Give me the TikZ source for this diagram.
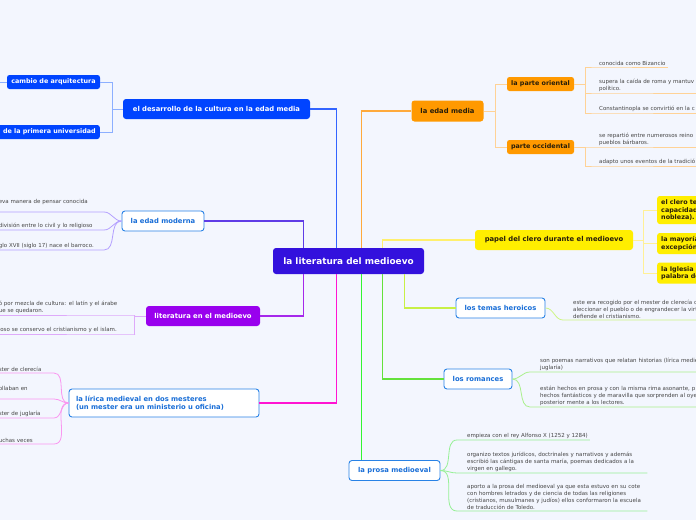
\documentclass[tikz,border=0pt]{standalone}
\usepackage{fontspec}
\setmainfont{DejaVu Sans}
\usetikzlibrary{positioning}

\definecolor{fondo}{RGB}{243,246,254}
\definecolor{centralc}{RGB}{51,17,221}
\definecolor{azul}{RGB}{0,68,255}
\definecolor{azulrama}{RGB}{50,100,255}
\definecolor{azulhoja}{RGB}{140,175,255}
\definecolor{moradorama}{RGB}{95,60,230}
\definecolor{moradohoja}{RGB}{180,160,255}
\definecolor{violeta}{RGB}{153,0,238}
\definecolor{violetarama}{RGB}{165,40,235}
\definecolor{violetahoja}{RGB}{222,170,250}
\definecolor{magrama}{RGB}{255,20,210}
\definecolor{maghoja}{RGB}{250,150,240}
\definecolor{naranja}{RGB}{255,153,0}
\definecolor{naranjarama}{RGB}{255,170,60}
\definecolor{naranjahoja}{RGB}{255,210,150}
\definecolor{amarillo}{RGB}{255,238,0}
\definecolor{amarillorama}{RGB}{255,240,110}
\definecolor{amarillohoja}{RGB}{255,240,150}
\definecolor{limarama}{RGB}{200,240,70}
\definecolor{limahoja}{RGB}{205,245,130}
\definecolor{verderama}{RGB}{100,225,60}
\definecolor{verdehoja}{RGB}{170,240,140}
\definecolor{prosarama}{RGB}{50,245,50}
\definecolor{prosahoja}{RGB}{150,240,150}
\definecolor{borde}{RGB}{40,130,230}
\definecolor{textoazul}{RGB}{25,110,215}
\definecolor{textohoja}{RGB}{70,70,70}
\definecolor{textooscuro}{RGB}{40,30,10}

\begin{document}
\begin{tikzpicture}[
  x=1pt, y=-1pt,
  every node/.style={font=\fontsize{6.8}{8.2}\selectfont\bfseries},
  tema/.style={rectangle, rounded corners=3pt, fill=#1, text=white,
               minimum height=20pt, inner sep=2pt},
  caja/.style={rectangle, rounded corners=3pt, draw=borde, fill=white, text=textoazul,
               line width=0.9pt, minimum height=20pt, inner sep=2pt},
  sub/.style={rectangle, rounded corners=2.5pt, fill=#1, minimum height=14pt,
              inner sep=1.5pt, font=\fontsize{6.4}{7.4}\selectfont\bfseries},
  hoja/.style={font=\fontsize{5.5}{6.8}\selectfont, text=textohoja, align=left,
               inner xsep=2pt, inner ysep=1.5pt},
  hojader/.style={hoja, anchor=south west},
  hojaizq/.style={hoja, anchor=south east, text width=#1},
  rama/.style={draw=#1, line width=1.4pt},
  lazo/.style={draw=#1, line width=0.8pt},
]

% ── Fondo y recorte ──────────────────────────────────────────────────
\useasboundingbox (0,0) rectangle (696,520);
\clip (0,0) rectangle (696,520);
\fill[fondo] (0,0) rectangle (696,520);

% ── Tema central ─────────────────────────────────────────────────────
\node[tema=centralc, minimum width=151pt, minimum height=26pt,
      font=\fontsize{8.9}{10}\selectfont\bfseries] (centro) at (348.5,261) {la literatura del medioevo};

% ── Ramas de la izquierda ────────────────────────────────────────────
\node[tema=azul, minimum width=187pt] (desarrollo) at (216.5,109) {el desarrollo de la cultura en la edad media};
\node[sub=azul, text=white, minimum width=93pt] (cambio) at (53.5,82) {cambio de arquitectura};
\node[sub=azul, text=white, text width=100pt, align=right, inner xsep=4pt, anchor=east]
  (universidad) at (100,132) {de la primera universidad};
\coordinate (cambiohijos) at (-10,82);

\node[caja, minimum width=82pt] (moderna) at (163,221) {la edad moderna};
\node[hojaizq=103pt] (mod1) at (104,212) {eva manera de pensar conocida\\~};
\node[hojaizq=103pt] (mod2) at (104,230) {división entre lo civil y lo religioso};
\node[hojaizq=103pt] (mod3) at (104,250) {glo XVII (siglo 17) nace el barroco.};

\node[tema=violeta, minimum width=114pt] (literatura) at (203,316) {literatura en el medioevo};
\node[hojaizq=134pt] (lit1) at (135,315) {ó por mezcla de cultura: el latín y el árabe\\ue se quedaron.};
\node[hojaizq=134pt] (lit2) at (135,334) {ioso se conservo el cristianismo y el islam.};

\node[caja, text width=176pt, align=left, inner xsep=7pt, minimum height=28pt] (lirica) at (164,403)
  {la lírica medieval en dos mesteres\\(un mester era un ministerio u oficina)};
\node[hojaizq=53pt] (lir1) at (54,373) {ster de clerecía};
\node[hojaizq=53pt] (lir2) at (54,399) {ollaban en\\~};
\node[hojaizq=53pt] (lir3) at (54,418) {ster de juglaría};
\node[hojaizq=53pt] (lir4) at (54,444) {uchas veces};

% ── Ramas de la derecha ──────────────────────────────────────────────
\node[tema=naranja, text=textooscuro, minimum width=72pt, minimum height=21pt] (media) at (447.5,111) {la edad media};
\node[sub=naranja, text=textooscuro, minimum width=67pt] (oriental) at (540.5,84) {la parte oriental};
\node[sub=naranja, text=textooscuro, minimum width=67pt] (occidental) at (540.5,147) {parte occidental};
\node[hojader] (ori1) at (597,67) {conocida como Bizancio};
\node[hojader, text width=110pt] (ori2) at (597,93) {supera la caída de roma y mantuv\\político.};
\node[hojader, text width=110pt] (ori3) at (597,113) {Constantinopla se convirtió en la c};
\node[hojader, text width=110pt] (occ1) at (597,147) {se repartió entre numerosos reino\\pueblos bárbaros.};
\node[hojader, text width=110pt] (occ2) at (597,166) {adapto unos eventos de la tradició};

\node[tema=amarillo, text=textooscuro, minimum width=158pt] (papel) at (554,240) {papel del clero durante el medioevo};
\node[sub=amarillo, text=textooscuro, anchor=west, text width=50pt, align=left, inner xsep=4pt,
      minimum height=28pt] (clero1) at (657,210) {el clero te\\capacidad\\nobleza).};
\node[sub=amarillo, text=textooscuro, anchor=west, text width=50pt, align=left, inner xsep=4pt,
      minimum height=21pt] (clero2) at (657,243.5) {la mayoría\\excepción};
\node[sub=amarillo, text=textooscuro, anchor=west, text width=50pt, align=left, inner xsep=4pt,
      minimum height=21pt] (clero3) at (657,273) {la Iglesia\\palabra de};

\node[caja, minimum width=89pt] (heroicos) at (500.5,308) {los temas heroicos};
\node[hojader, text width=130pt] (her1) at (571,320)
  {este era recogido por el mester de clerecía c\\aleccionar el pueblo o de engrandecer la virt\\defiende el cristianismo.};

\node[caja, minimum width=68pt] (romances) at (478,379) {los romances};
\node[hojader, text width=160pt] (rom1) at (538,372)
  {son poemas narrativos que relatan historias (lírica medie\\juglaría)};
\node[hojader, text width=160pt] (rom2) at (538,407)
  {están hechos en prosa y con la misma rima asonante, p\\hechos fantásticos y de maravilla que sorprenden al oye\\posterior mente a los lectores.};

\node[caja, minimum width=91pt] (prosa) at (394.5,470.5) {la prosa medioeval};
\node[hojader] (pro1) at (465,440) {empieza con el rey Alfonso X (1252 y 1284)};
\node[hojader, text width=178pt] (pro2) at (465,473)
  {organizo textos jurídicos, doctrinales y narrativos y además\\escribió las cántigas de santa maría, poemas dedicados a la\\virgen en gallego.};
\node[hojader, text width=178pt] (pro3) at (465,511)
  {aporto a la prosa del medioeval ya que esta estuvo en su cote\\con hombres letrados y de ciencia de todas las religiones\\(cristianos, musulmanes y judíos) ellos conformaron la escuela\\de traducción de Toledo.};

% ── Conectores desde el centro ───────────────────────────────────────
\draw[rama=azulrama] (desarrollo.east) -| ([xshift=-12pt]centro.north);
\draw[rama=moradorama] (moderna.east) -| ([xshift=-45pt]centro.north);
\draw[rama=violetarama] (literatura.east) -| ([xshift=-45pt]centro.south);
\draw[rama=magrama] (lirica.east) -| ([xshift=-12pt]centro.south);
\draw[rama=naranjarama] (media.west) -| ([xshift=13pt]centro.north);
\draw[rama=amarillorama] (papel.west) -| ([xshift=34pt]centro.north);
\draw[rama=limarama] (heroicos.west) -| ([xshift=56pt]centro.south);
\draw[rama=verderama] (romances.west) -| ([xshift=34pt]centro.south);
\draw[rama=prosarama] ([xshift=13pt]centro.south) -- ([xshift=13pt]centro.south |- prosa.north);

% ── Subramas izquierda ───────────────────────────────────────────────
\draw[lazo=azulhoja] (desarrollo.west) -- ++(-10,0) |- (cambio.east);
\draw[lazo=azulhoja] (desarrollo.west) -- ++(-10,0) |- (universidad.east);
\draw[lazo=azulhoja] (cambio.west) -- (cambiohijos);

\foreach \h in {mod1, mod2, mod3}
  \draw[lazo=moradohoja] (moderna.west) to[out=180, in=0] (\h.south east) -- (\h.south west);

\foreach \h in {lit1, lit2}
  \draw[lazo=violetahoja] (literatura.west) -- ++(-11,0) |- (\h.south east) -- (\h.south west);

\foreach \h in {lir1, lir2, lir3, lir4}
  \draw[lazo=maghoja] (lirica.west) to[out=180, in=0] (\h.south east) -- (\h.south west);

% ── Subramas derecha ─────────────────────────────────────────────────
\draw[lazo=naranjahoja] (media.east) -- ++(12,0) |- (oriental.west);
\draw[lazo=naranjahoja] (media.east) -- ++(12,0) |- (occidental.west);
\foreach \h in {ori1, ori2, ori3}
  \draw[lazo=naranjahoja] (oriental.east) -- ++(11,0) |- (\h.south west) -- (\h.south east);
\foreach \h in {occ1, occ2}
  \draw[lazo=naranjahoja] (occidental.east) -- ++(11,0) |- (\h.south west) -- (\h.south east);

\foreach \h in {clero1, clero2, clero3}
  \draw[lazo=amarillohoja] (papel.east) -- ++(10,0) |- (\h.west);

\draw[lazo=limahoja] (heroicos.east) to[out=0, in=180] ([xshift=-8pt]her1.south west) -- (her1.south east);

\foreach \h in {rom1, rom2}
  \draw[lazo=verdehoja] (romances.east) to[out=0, in=180] ([xshift=-8pt]\h.south west) -- (\h.south east);

\foreach \h in {pro1, pro2, pro3}
  \draw[lazo=prosahoja] (prosa.east) to[out=0, in=180] ([xshift=-8pt]\h.south west) -- (\h.south east);

\end{tikzpicture}
\end{document}
